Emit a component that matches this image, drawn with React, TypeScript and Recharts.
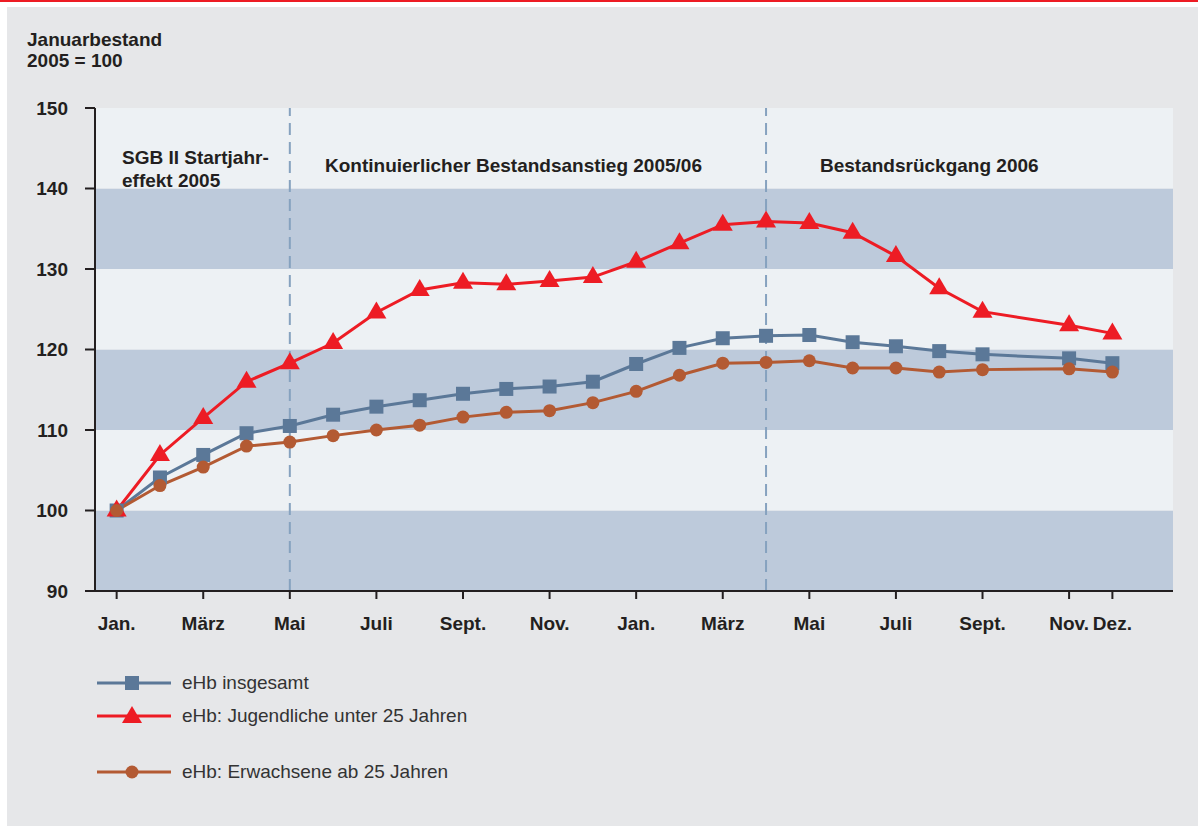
import { LineChart, Line, XAxis, YAxis, ReferenceArea, ReferenceLine } from "recharts";

// month index from Jan. 2005 (0) to Dez. 2006 (23); the chart has 23 points
const months = [0, 1, 2, 3, 4, 5, 6, 7, 8, 9, 10, 11, 12, 13, 14, 15, 16, 17, 18, 19, 20, 22, 23];

const insgesamt = [100, 104.1, 106.9, 109.6, 110.5, 111.9, 112.9, 113.7, 114.5, 115.1, 115.4, 116.0, 118.2, 120.2, 121.4, 121.7, 121.8, 120.9, 120.4, 119.8, 119.4, 118.9, 118.3];
const jugendliche = [100, 106.9, 111.5, 116.0, 118.3, 120.8, 124.6, 127.4, 128.3, 128.1, 128.5, 129.0, 130.9, 133.2, 135.5, 135.9, 135.7, 134.5, 131.6, 127.6, 124.7, 123.0, 122.0];
const erwachsene = [100, 103.1, 105.4, 108.0, 108.5, 109.3, 110.0, 110.6, 111.6, 112.2, 112.4, 113.4, 114.8, 116.8, 118.3, 118.4, 118.6, 117.7, 117.7, 117.2, 117.5, 117.6, 117.2];

const tickMonths = [0, 2, 4, 6, 8, 10, 12, 14, 16, 18, 20, 22, 23];
const tickLabels = ["Jan.", "März", "Mai", "Juli", "Sept.", "Nov.", "Jan.", "März", "Mai", "Juli", "Sept.", "Nov.", "Dez."];
const yTicks = [90, 100, 110, 120, 130, 140, 150];
const bands = [
  [90, 100],
  [100, 110],
  [110, 120],
  [120, 130],
  [130, 140],
  [140, 150],
];
const phaseBreaks = [4, 15];

const BLUE = "#5b7898";
const RED = "#ed1c24";
const ORANGE = "#b35a33";
const DARK_BAND = "#bdcadb";
const LIGHT_BAND = "#edf1f4";
const INK = "#231f20";
const FONT = '"Liberation Sans", Arial, sans-serif';

const data = months.map((m, i) => ({
  month: m,
  insgesamt: insgesamt[i],
  jugendliche: jugendliche[i],
  erwachsene: erwachsene[i],
}));

const squareDot = (p: any) => (
  <rect key={`sq-${p.index}`} x={p.cx - 7} y={p.cy - 7} width={14} height={14} fill={BLUE} />
);
const triangleDot = (p: any) => (
  <polygon
    key={`tr-${p.index}`}
    points={`${p.cx},${p.cy - 11} ${p.cx + 10},${p.cy + 6} ${p.cx - 10},${p.cy + 6}`}
    fill={RED}
  />
);
const circleDot = (p: any) => <circle key={`ci-${p.index}`} cx={p.cx} cy={p.cy} r={6.5} fill={ORANGE} />;

const legendItems = [
  { label: "eHb insgesamt", color: BLUE, shape: "square", top: 672 },
  { label: "eHb: Jugendliche unter 25 Jahren", color: RED, shape: "triangle", top: 705 },
  { label: "eHb: Erwachsene ab 25 Jahren", color: ORANGE, shape: "circle", top: 761 },
];

function LegendMark({ color, shape }: { color: string; shape: string }) {
  return (
    <svg width={76} height={22} style={{ display: "block" }}>
      <line x1={2} y1={11} x2={76} y2={11} stroke={color} strokeWidth={3} />
      {shape === "square" && <rect x={30} y={4} width={14} height={14} fill={color} />}
      {shape === "triangle" && <polygon points="37,1 47,18 27,18" fill={color} />}
      {shape === "circle" && <circle cx={37} cy={11} r={6.5} fill={color} />}
    </svg>
  );
}

const labelStyle = {
  position: "absolute" as const,
  fontFamily: FONT,
  fontWeight: 700,
  fontSize: 19,
  lineHeight: "22px",
  color: INK,
  whiteSpace: "nowrap" as const,
};

export default function App() {
  return (
    <div style={{ position: "absolute", left: 0, top: 0, width: 1198, height: 826, background: "#fff", overflow: "hidden", fontFamily: FONT }}>
      <div style={{ position: "absolute", left: 0, top: 0, width: 1198, height: 2, background: RED }} />
      <div style={{ position: "absolute", left: 7, top: 7, width: 1191, height: 819, background: "#e6e7e9" }} />

      <div style={{ position: "absolute", left: 0, top: 0 }}>
        <LineChart width={1198} height={826} data={data} margin={{ top: 108, right: 25, bottom: 195, left: 35 }}>
          {bands.map(([lo, hi], i) => (
            <ReferenceArea
              key={`band-${lo}`}
              y1={lo}
              y2={hi}
              fill={i % 2 === 0 ? DARK_BAND : LIGHT_BAND}
              fillOpacity={1}
              stroke="none"
              ifOverflow="hidden"
            />
          ))}
          {phaseBreaks.map((m) => (
            <ReferenceLine key={`br-${m}`} x={m} stroke="#86a2bf" strokeWidth={2} strokeDasharray="12 7" />
          ))}
          <XAxis
            type="number"
            dataKey="month"
            domain={[-0.5, 24.4]}
            ticks={tickMonths}
            interval={0}
            allowDataOverflow
            tickFormatter={(v: number) => tickLabels[tickMonths.indexOf(v)]}
            height={40}
            axisLine={{ stroke: INK, strokeWidth: 2 }}
            tickLine={{ stroke: INK, strokeWidth: 2 }}
            tickSize={8}
            tickMargin={18}
            tick={{ fill: INK, fontSize: 19, fontWeight: 700, fontFamily: FONT }}
          />
          <YAxis
            domain={[90, 150]}
            ticks={yTicks}
            interval={0}
            width={60}
            axisLine={{ stroke: INK, strokeWidth: 2 }}
            tickLine={{ stroke: INK, strokeWidth: 2 }}
            tickSize={10}
            tickMargin={17}
            tick={{ fill: INK, fontSize: 19, fontWeight: 700, fontFamily: FONT }}
          />
          <Line type="linear" dataKey="insgesamt" stroke={BLUE} strokeWidth={3} dot={squareDot} activeDot={false} isAnimationActive={false} />
          <Line type="linear" dataKey="jugendliche" stroke={RED} strokeWidth={3} dot={triangleDot} activeDot={false} isAnimationActive={false} />
          <Line type="linear" dataKey="erwachsene" stroke={ORANGE} strokeWidth={3} dot={circleDot} activeDot={false} isAnimationActive={false} />
        </LineChart>
      </div>

      <div style={{ ...labelStyle, left: 27, top: 29, lineHeight: "21px" }}>
        Januarbestand
        <br />
        2005 = 100
      </div>
      <div style={{ ...labelStyle, left: 122, top: 146, lineHeight: "23px" }}>
        SGB II Startjahr-
        <br />
        effekt 2005
      </div>
      <div style={{ ...labelStyle, left: 325, top: 155 }}>Kontinuierlicher Bestandsanstieg 2005/06</div>
      <div style={{ ...labelStyle, left: 820, top: 155 }}>Bestandsrückgang 2006</div>

      {legendItems.map((it) => (
        <div key={it.label} style={{ position: "absolute", left: 95, top: it.top, display: "flex", alignItems: "center" }}>
          <LegendMark color={it.color} shape={it.shape} />
          <span style={{ marginLeft: 11, fontSize: 19, color: "#333", fontFamily: FONT }}>{it.label}</span>
        </div>
      ))}
    </div>
  );
}
